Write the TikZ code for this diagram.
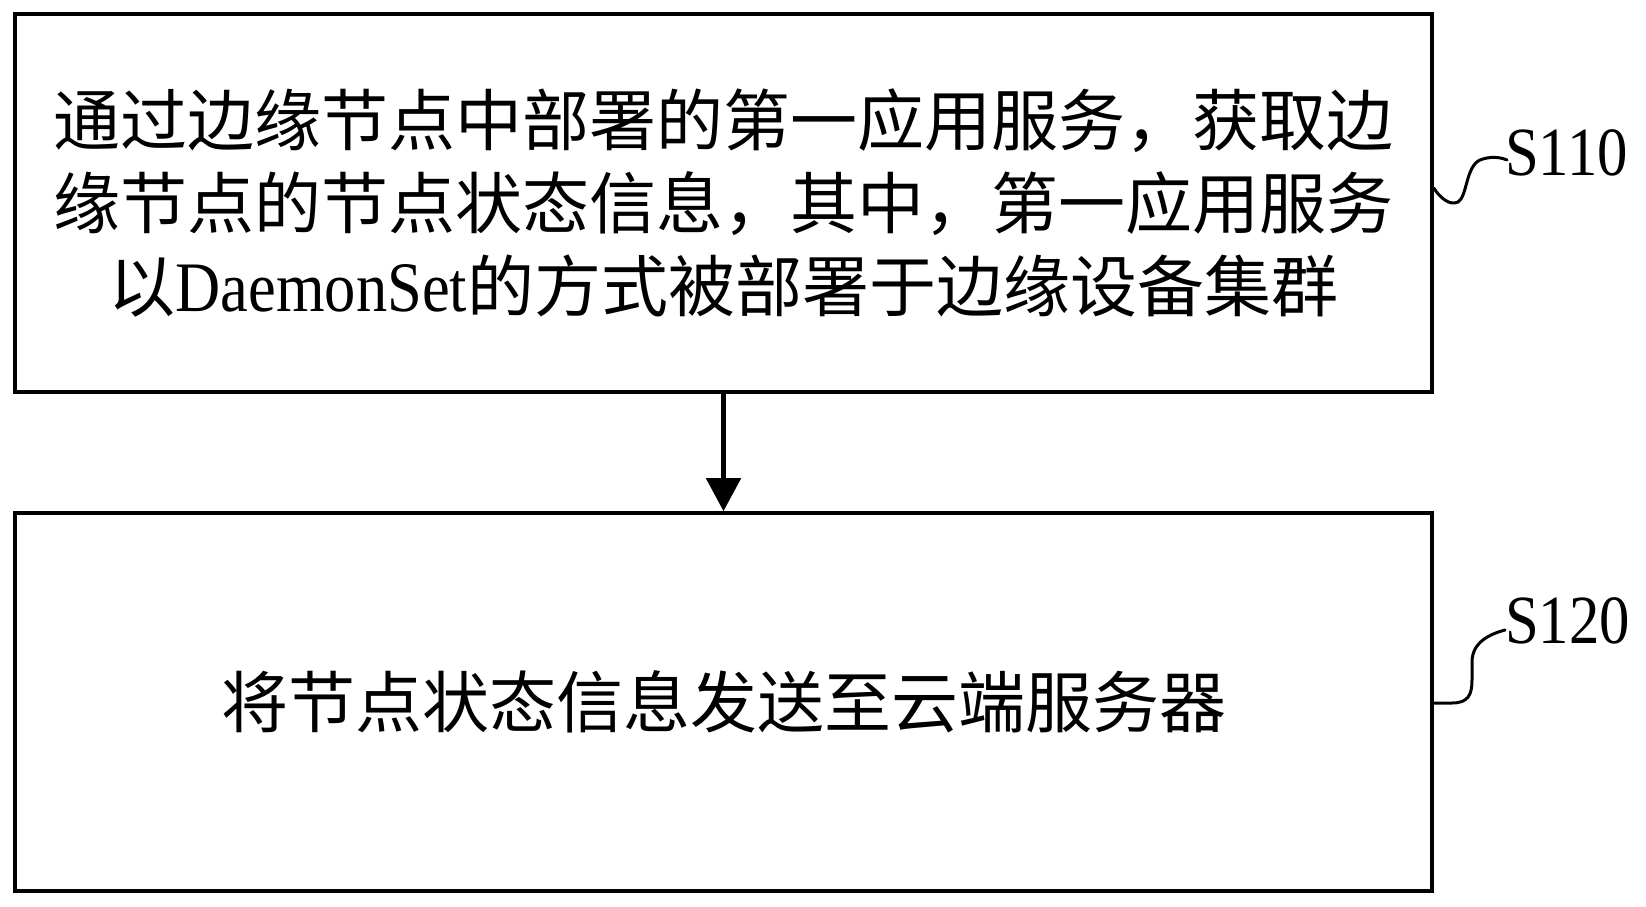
\documentclass[tikz,border=0pt]{standalone}
\usepackage{fontspec}
\setmainfont{Liberation Serif}
\newfontfamily\cjk{Noto Sans CJK SC}
\newfontfamily\lat[FakeStretch=0.88]{Liberation Serif}
\usetikzlibrary{arrows.meta}
\tikzset{
  stepbox/.style={draw=black, line width=3.6pt, minimum width=1417pt, minimum height=378pt, inner sep=0pt, align=center, font=\cjk\fontsize{67}{83}\selectfont},
  steplabel/.style={inner sep=0pt, anchor=base west, font=\lat\fontsize{69}{69}\selectfont},
  leader/.style={draw=black, line width=3pt, line cap=round},
  flow/.style={draw=black, line width=5pt, -{Triangle[width=34pt,length=33pt]}}
}
\begin{document}
\begin{tikzpicture}[x=1pt,y=-1pt]
\useasboundingbox (0,0) rectangle (1646,906);
\node[stepbox] (b1) at (723.5,203) {通过边缘节点中部署的第一应用服务，获取边\\缘节点的节点状态信息，其中，第一应用服务\\以{\lat\fontsize{71}{83}\selectfont DaemonSet}的方式被部署于边缘设备集群};
\node[stepbox] (b2) at (723.5,702) {将节点状态信息发送至云端服务器};
\draw[flow] (b1.south) -- (b2.north);
\node[steplabel] (l1) at (1505,175) {S110};
\node[steplabel] (l2) at (1505,643) {S120};
\coordinate (e1) at (1507,160);
\coordinate (e2) at (1505,630);
\draw[leader] ([yshift=15pt]b1.east) .. controls (1440,198) and (1450,206) .. (1458,202) .. controls (1467,197) and (1466,166) .. (1480,160) .. controls (1490,156) and (1500,157) .. (e1);
\draw[leader] ([yshift=-1pt]b2.east) -- (1452,703) .. controls (1468,703) and (1472,695) .. (1472,680) -- (1472,662) .. controls (1472,642) and (1490,634) .. (e2);
\end{tikzpicture}
\end{document}
